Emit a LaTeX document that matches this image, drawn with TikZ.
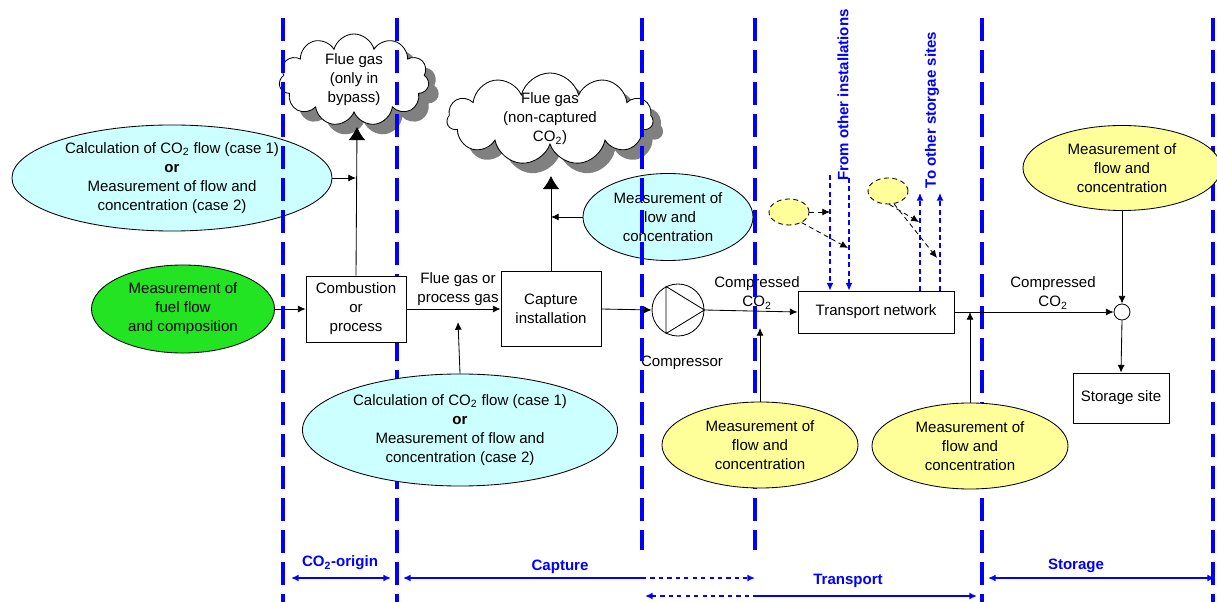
\documentclass[tikz,border=0pt]{standalone}
\usepackage{fontspec}
\setmainfont{Liberation Sans}
\usetikzlibrary{arrows,arrows.meta,shapes.geometric,shapes.symbols,shadows}
\definecolor{lcyan}{RGB}{204,255,255}
\definecolor{lgreen}{RGB}{34,228,34}
\definecolor{lyellow}{RGB}{255,255,153}
\definecolor{shgray}{RGB}{128,128,128}

\tikzset{
  txt/.style={font=\fontsize{10.7}{13.5}\selectfont, align=center},
  ell/.style={txt, ellipse, draw, inner sep=0pt},
  box/.style={txt, rectangle, draw, fill=white, inner sep=0pt},
  fluecloud/.style={txt, cloud, draw, cloud puffs=11, cloud ignores aspect, fill=white, inner sep=-7pt,
    drop shadow={shadow xshift=0.25cm, shadow yshift=-0.25cm, fill=shgray, opacity=1}},
  sep/.style={blue, line width=2.2pt, dash pattern=on 0.575cm off 0.225cm},
  feed/.style={blue, line width=0.9pt, dash pattern=on 3.5pt off 2.5pt},
  hint/.style={dash pattern=on 3.5pt off 2.5pt},
  zone/.style={blue, font=\bfseries\fontsize{10.7}{13}\selectfont},
  zonearrow/.style={blue, line width=1.1pt},
  bigtip/.style={-{Latex[length=0.33cm,width=0.42cm]}},
}

\begin{document}
\begin{tikzpicture}[x=0.025cm,y=-0.025cm,>={Latex[length=5.5pt,width=5pt]},line width=0.6pt]
   \useasboundingbox (0,0) rectangle (1217,602);

   \node[ell,fill=lcyan,minimum width=8cm,minimum height=2.65cm] (calc1) at (172,178) {Calculation of CO\textsubscript{2} flow (case 1)\\\textbf{or}\\Measurement of flow and\\concentration (case 2)};
   \node[fluecloud,minimum width=3.75cm,minimum height=2.3cm] (flue1) at (354,80) {Flue gas\\(only in\\bypass)};
   \node[fluecloud,minimum width=5.15cm,minimum height=2.3cm] (flue2) at (550,119) {Flue gas\\(non-captured\\CO\textsubscript{2})};
   \node[ell,fill=lcyan,minimum width=4.25cm,minimum height=2.175cm] (meascap) at (668,217) {Measurement of\\flow and\\concentration};
   \node[txt] (lblc1) at (757,293) {Compressed\\CO\textsubscript{2}};
   \node[txt] (lblcomp) at (682,363) {Compressor};

   \foreach \x/\y in {283/602,397/602,642/550,755/550,982/602,1213/602}
      \draw[sep] (\x,18) -- (\x,\y);

   \node[ell,fill=lgreen,minimum width=4.575cm,minimum height=2.2cm] (fuel) at (183,309) {Measurement of\\fuel flow\\and composition};
   \node[box,minimum width=2.5cm,minimum height=1.65cm] (comb) at (356,309) {Combustion\\or\\process};
   \node[box,minimum width=2.5cm,minimum height=1.875cm] (capt) at (551,309) {Capture\\installation};
   \node[txt] (lblflue) at (458,289) {Flue gas or\\process gas};
   \node[ell,fill=lcyan,minimum width=7.875cm,minimum height=2.8cm] (calc2) at (460,430) {Calculation of CO\textsubscript{2} flow (case 1)\\\textbf{or}\\Measurement of flow and\\concentration (case 2)};
   \node[circle,draw,minimum size=1.3cm,inner sep=0pt] (comp) at (678,310) {};
   \node[box,minimum width=3.9cm,minimum height=1.05cm] (trans) at (876,312) {Transport network};
   \node[ell,fill=lyellow,minimum width=4.9cm,minimum height=2.15cm] (meas1) at (760,445) {Measurement of\\flow and\\concentration};
   \node[ell,fill=lyellow,minimum width=4.9cm,minimum height=2.15cm] (meas2) at (970,446) {Measurement of\\flow and\\concentration};
   \node[ell,fill=lyellow,minimum width=4.95cm,minimum height=2.125cm] (meas3) at (1122,168) {Measurement of\\flow and\\concentration};
   \node[txt] (lblc2) at (1053,293) {Compressed\\CO\textsubscript{2}};
   \node[circle,draw,fill=white,minimum size=0.4cm,inner sep=0pt] (junc) at (1122,312) {};
   \node[box,minimum width=2.4cm,minimum height=1.25cm] (store) at (1121,398) {Storage site};
   \node[ell,hint,fill=lyellow,minimum width=1cm,minimum height=0.65cm] (srcA) at (789,212) {};
   \node[ell,hint,fill=lyellow,minimum width=1cm,minimum height=0.65cm] (srcB) at (888,191) {};
   \node[zone,rotate=90] (lblfrom) at (843,95) {From other installations};
   \node[zone,rotate=90] (lblto) at (932,110) {To other storgae sites};

   \draw (comp.east) -- (comp.117) -- (comp.243) -- cycle;

   \coordinate (f1in) at (357,127);
   \coordinate (f2in) at (551,176);
   \coordinate (fgin) at (458,322);
   \coordinate (c1in) at (760,328);
   \draw [->] (calc1.east) -- (calc1.east -| comb.north);
   \draw [bigtip] (comb.north) -- (f1in);
   \draw [->] (fuel.east) -- (comb.west);
   \draw [->] (comb.east) -- (capt.west);
   \draw [->] (calc2.north) -- (fgin);
   \draw [bigtip] (capt.north) -- (f2in);
   \draw [->] (meascap.west) -- (meascap.west -| capt.north);
   \draw [->] (capt.east) -- (comp.west);
   \draw [->] (comp.east) -- (trans.west);
   \draw [->] (meas1.north) -- (c1in);
   \draw [->] (trans.east) -- (junc.west);
   \draw [->] (meas2.north) -- (meas2.north |- trans.east);
   \draw [->] (meas3.south) -- (junc.north);
   \draw [->] (junc.south) -- (store.north);

   \coordinate (inA) at (830,175);
   \coordinate (inB) at (849,178);
   \coordinate (outA) at (920,193);
   \coordinate (outB) at (940,193);
   \draw [feed,->] (inA) -- (inA |- trans.north);
   \draw [feed,->] (inB) -- (inB |- trans.north);
   \draw [feed,->] (outA |- trans.north) -- (outA);
   \draw [feed,->] (outB |- trans.north) -- (outB);

   \coordinate (tA) at (848,248);
   \coordinate (tB1) at (919,222);
   \coordinate (tB2) at (937,258);
   \draw [hint,->] (srcA.east) -- (inA |- srcA.east);
   \draw [hint,->] (srcA.-40) -- (tA);
   \draw [hint,->] (srcB.-85) -- (tB1);
   \draw [hint,->] (srcB.-65) -- (tB2);

   \node[zone] (lblorig) at (340,563) {CO\textsubscript{2}-origin};
   \node[zone] (lblcap) at (560,567) {Capture};
   \node[zone] (lbltr) at (848,581) {Transport};
   \node[zone] (lblsto) at (1076,566) {Storage};
   \coordinate (o1) at (291,578);
   \coordinate (o2) at (391,578);
   \coordinate (c1) at (403,578);
   \coordinate (cm) at (642,578);
   \coordinate (c2) at (755,578);
   \coordinate (t1) at (645,596);
   \coordinate (tm) at (755,596);
   \coordinate (t2) at (977,596);
   \coordinate (s1) at (988,578);
   \coordinate (s2) at (1215,578);
   \draw [zonearrow,<->] (o1) -- (o2);
   \draw [zonearrow,<-] (c1) -- (cm);
   \draw [zonearrow,dashed,->] (cm) -- (c2);
   \draw [zonearrow,dashed,<-] (t1) -- (tm);
   \draw [zonearrow,->] (tm) -- (t2);
   \draw [zonearrow,<->] (s1) -- (s2);
\end{tikzpicture}
\end{document}
